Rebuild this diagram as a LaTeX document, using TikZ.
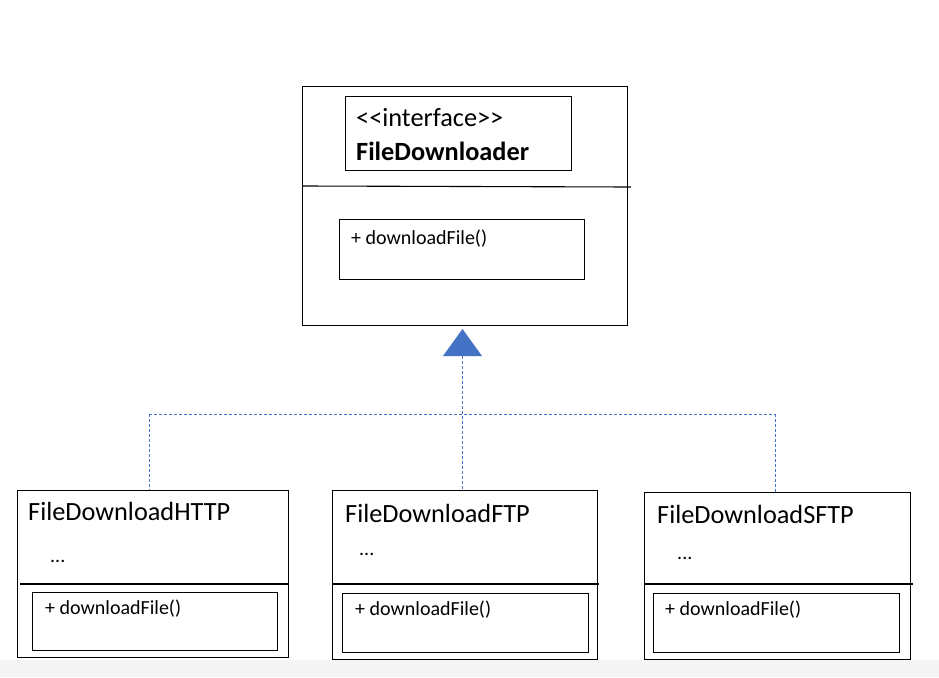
\documentclass[tikz,border=0pt]{standalone}
\usepackage{fontspec}
\setmainfont{Carlito}
\definecolor{ublue}{HTML}{4472C4}
\begin{document}
\begin{tikzpicture}[x=1pt,y=-1pt,
  box/.style={draw=black, line width=1.1pt, inner sep=0pt, anchor=north west},
  lbl/.style={anchor=base west, inner sep=0pt, text=black},
  big/.style={font=\fontsize{26.3}{29}\selectfont},
  small/.style={font=\fontsize{20}{23}\selectfont},
  conn/.style={draw=ublue, line width=1pt, dash pattern=on 3pt off 2pt}]
\useasboundingbox (0,0) rectangle (939,677);
\fill[white] (0,0) rectangle (939,660);
\fill[black!4] (0,660) rectangle (939,677);
% interface
\node[box, minimum width=325pt, minimum height=239pt] (iface) at (302,86) {};
\node[box, minimum width=226pt, minimum height=74pt] (ititle) at (345,96) {};
\node[box, minimum width=245pt, minimum height=60pt] (imeth) at (339,219) {};
\draw[line width=1.1pt] (302,186) -- (631,187);
\node[lbl, big] (st) at (356,126) {<\kern0pt<interface>\kern0pt>};
\node[lbl, font=\fontsize{26.3}{29}\selectfont\bfseries] (nm) at (356,160) {FileDownloader};
\node[lbl, small] (im) at (351,244) {+ downloadFile()};
% triangle
\fill[ublue] (443,356) -- (462.5,329) -- (482,356) -- cycle;
\coordinate (tb) at (462.5,356);
% classes
\node[box, minimum width=271pt, minimum height=167pt] (http) at (17,490) {};
\draw[line width=1.1pt] (20,584) -- (288,584);
\node[box, minimum width=245pt, minimum height=58pt] (hm) at (32,592) {};
\node[lbl, big] (ht) at (28,520) {FileDownloadHTTP};
\node[lbl, small] (hd) at (50,562) {...};
\node[lbl, small] (hmt) at (45,614) {+ downloadFile()};

\node[box, minimum width=265pt, minimum height=169pt] (ftp) at (332,490) {};
\draw[line width=1.1pt] (332,584) -- (599,584);
\node[box, minimum width=246pt, minimum height=59pt] (fm) at (342,593) {};
\node[lbl, big] (ft) at (345,522) {FileDownloadFTP};
\node[lbl, small] (fd) at (359,555) {...};
\node[lbl, small] (fmt) at (355,615) {+ downloadFile()};

\node[box, minimum width=266pt, minimum height=167pt] (sftp) at (644,492) {};
\draw[line width=1.1pt] (644,584) -- (913,584);
\node[box, minimum width=246pt, minimum height=59pt] (sm) at (653,593) {};
\node[lbl, big] (stt) at (657,523) {FileDownloadSFTP};
\node[lbl, small] (sd) at (677,559) {...};
\node[lbl, small] (smt) at (665,615) {+ downloadFile()};
% connectors
\coordinate (j1) at (149,414);
\coordinate (j2) at (775,414);
\draw[conn] (j1) -- (j2);
\draw[conn] (tb) -- (tb |- ftp.north);
\draw[conn] (j1) -- (j1 |- http.north);
\draw[conn] (j2) -- (j2 |- sftp.north);
\end{tikzpicture}
\end{document}
